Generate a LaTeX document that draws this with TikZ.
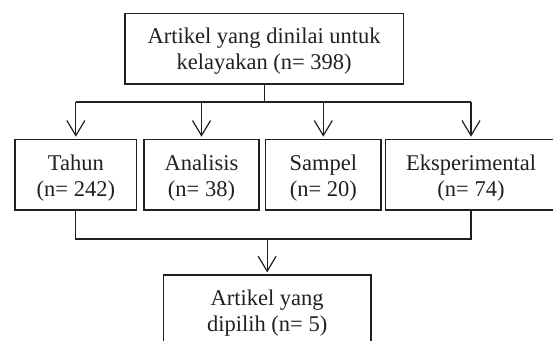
\documentclass[tikz,border=0pt]{standalone}
\usepackage{fontspec}
\setmainfont{Liberation Serif}
\usetikzlibrary{arrows.meta}
\definecolor{ink}{RGB}{35,31,32}
\tikzset{
  box/.style={draw=ink, text=ink, rectangle, inner sep=0pt, align=center,
    font=\fontsize{22.5}{26}\selectfont, line width=1.2pt, minimum height=70.7pt},
  conn/.style={draw=ink, line width=1.2pt},
  arr/.style={conn, -{Straight Barb[length=15pt,width=18pt]}, shorten >=2pt}
}
\newcommand{\upstrut}{\rule{0pt}{21.5pt}}
\begin{document}
\begin{tikzpicture}[x=1pt,y=-1pt]
\useasboundingbox (0,0) rectangle (553,340);
\clip (0,0) rectangle (553,340);
\node[box, minimum width=278.3pt] (top) at (264.15,48.65) {\upstrut Artikel yang dinilai untuk\\kelayakan (n= 398)};
\node[box, minimum width=121.7pt] (b1) at (75.85,174.65) {\upstrut Tahun\\(n= 242)};
\node[box, minimum width=115pt] (b2) at (201.5,174.65) {\upstrut Analisis\\(n= 38)};
\node[box, minimum width=115.3pt] (b3) at (323.3,174.65) {\upstrut Sampel\\(n= 20)};
\node[box, minimum width=171.2pt] (b4) at (471,174.65) {\upstrut Eksperimental\\(n= 74)};
\node[box, minimum width=207.7pt] (bot) at (267.15,310.35) {\upstrut Artikel yang\\dipilih (n= 5)};
\coordinate (j1) at (264.15,102);
\coordinate (j2) at (267,239);
\draw[conn] (top.south) -- (j1);
\draw[conn] (b1.north |- j1) -- (b4.north |- j1);
\draw[arr] (b1.north |- j1) -- (b1.north);
\draw[arr] (b2.north |- j1) -- (b2.north);
\draw[arr] (b3.north |- j1) -- (b3.north);
\draw[arr] (b4.north |- j1) -- (b4.north);
\draw[conn] (b1.south) -- (b1.south |- j2) -- (b4.south |- j2) -- (b4.south);
\draw[arr] (bot.north |- j2) -- (bot.north);
\end{tikzpicture}
\end{document}
